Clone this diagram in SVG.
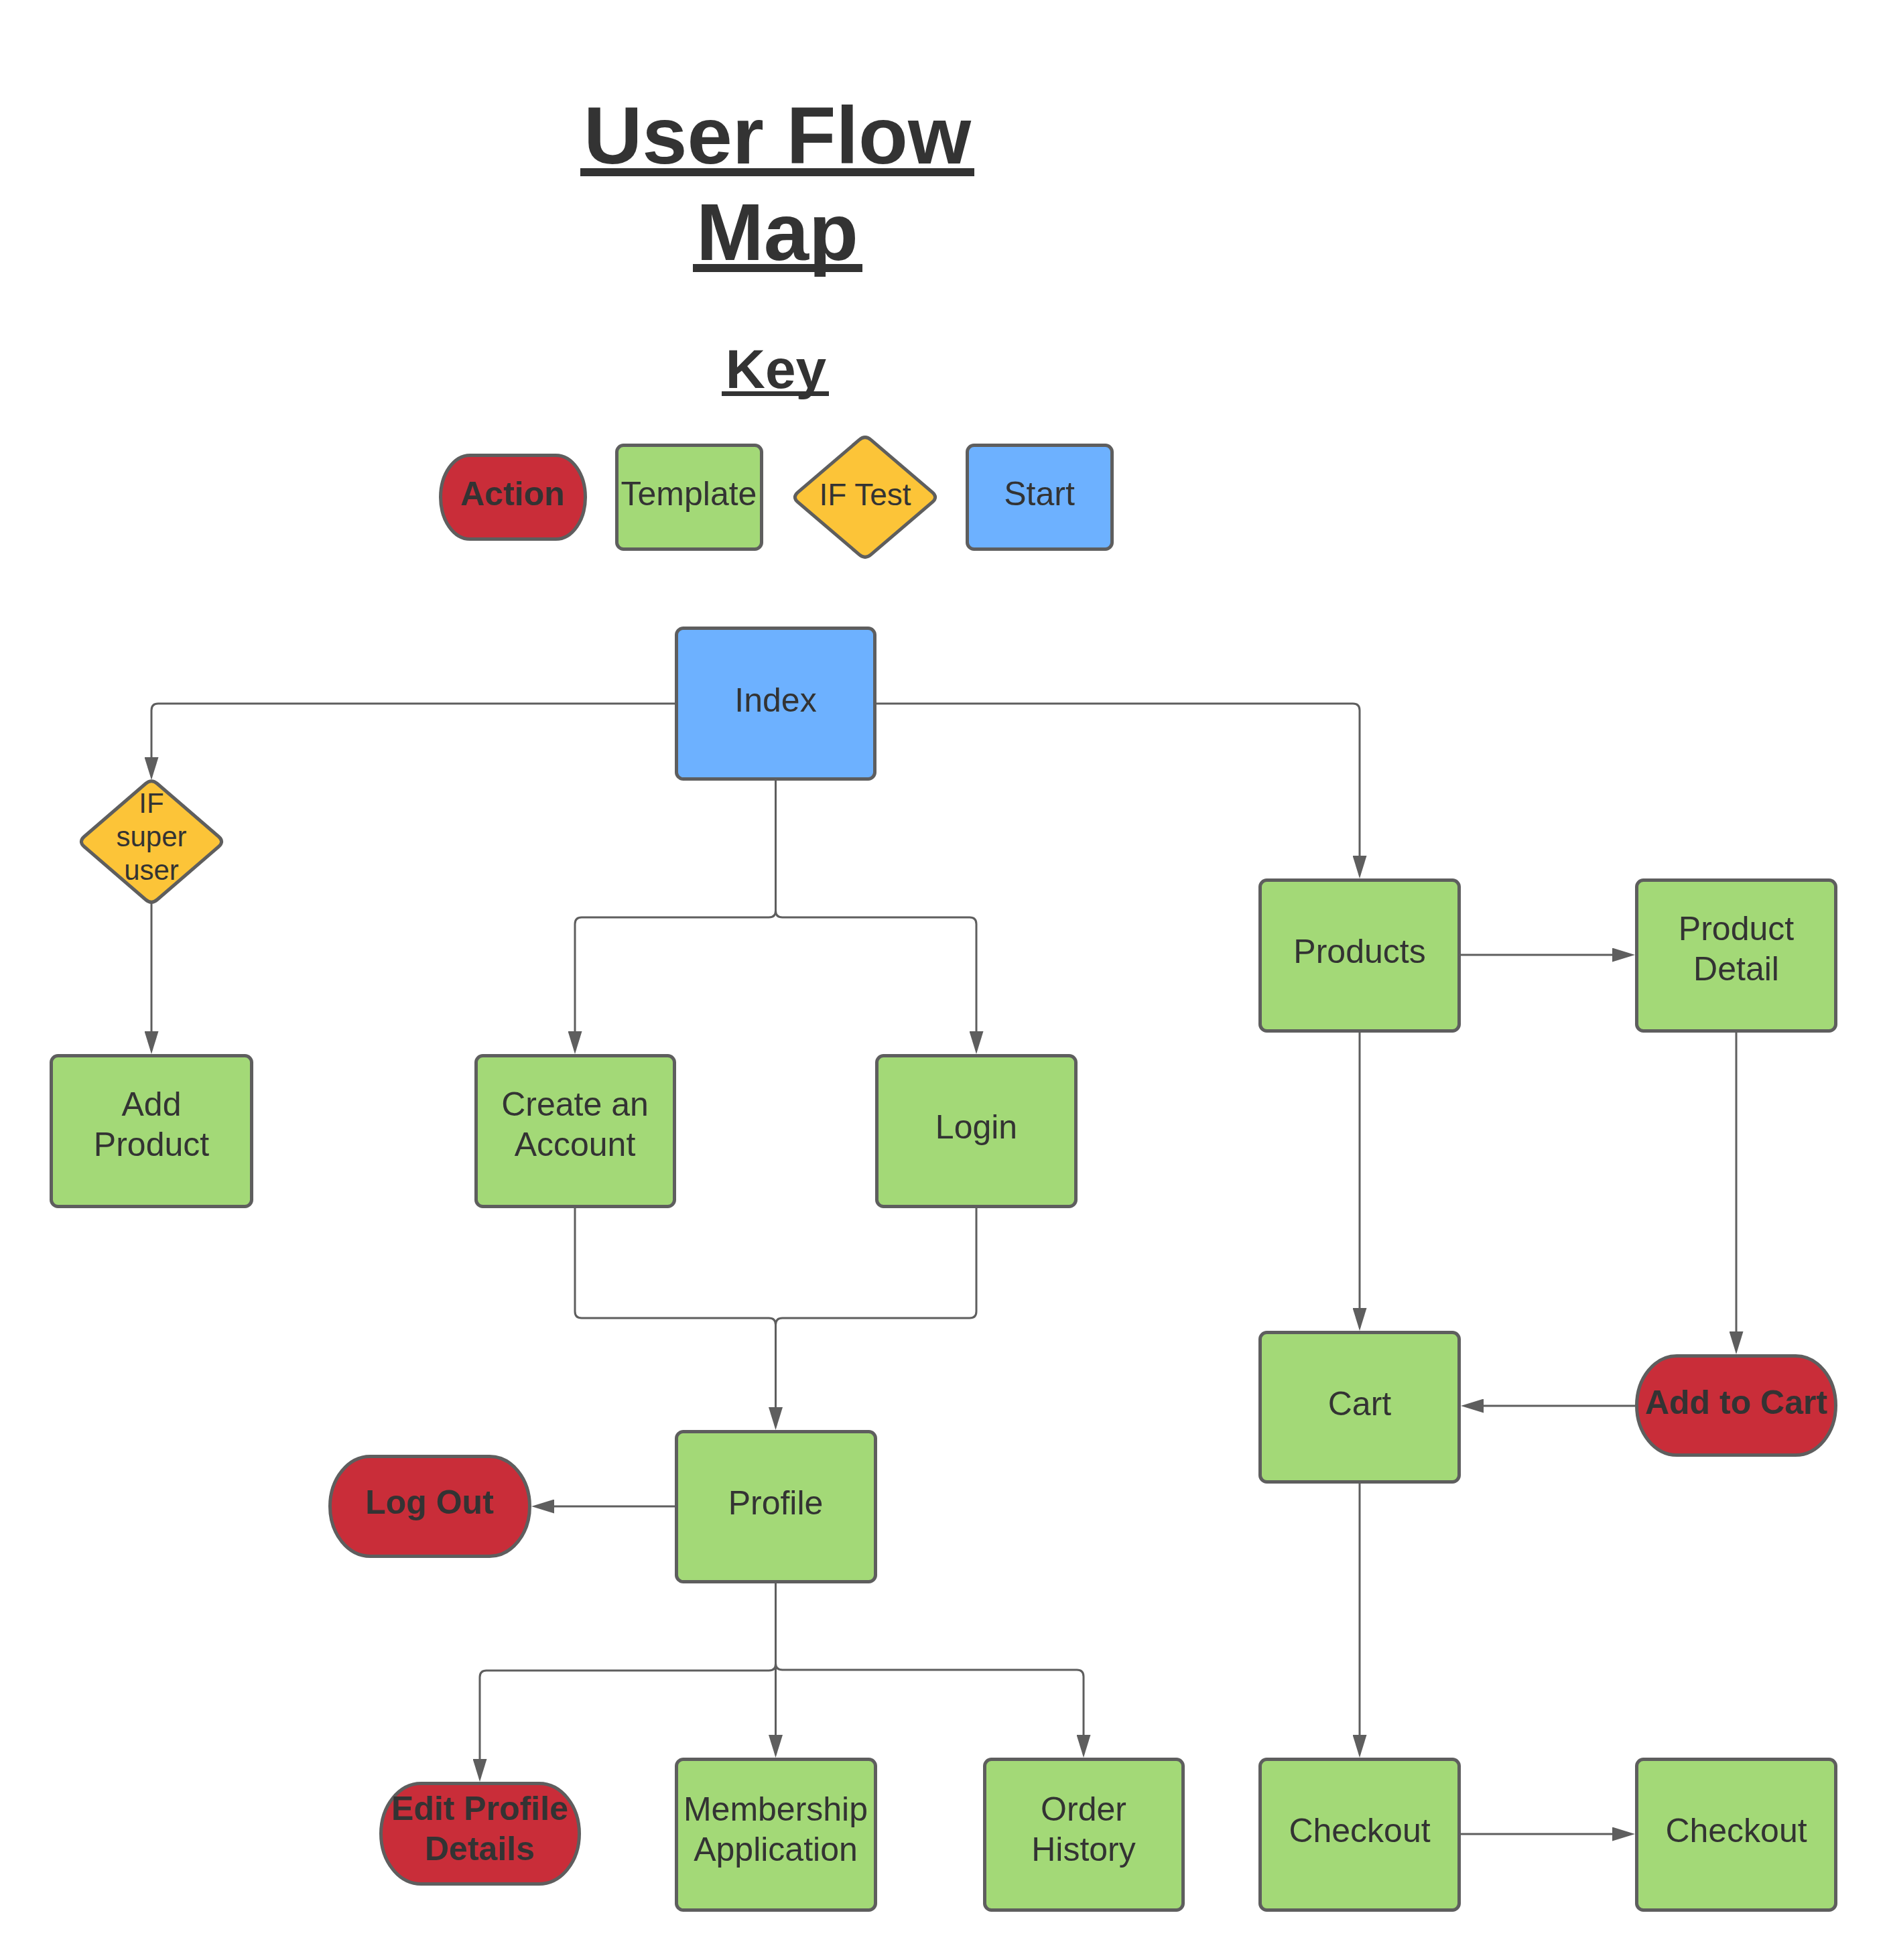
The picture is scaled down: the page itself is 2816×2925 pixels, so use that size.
<svg xmlns="http://www.w3.org/2000/svg" width="2816" height="2925" viewBox="0 0 2816 2925">
<defs>
<style>
.t{font-family:"Liberation Sans",Arial,sans-serif;fill:#333333;text-anchor:middle}
.n{font-size:50px}
.b{font-size:50px;font-weight:bold}
.tmp{fill:#A3D977;stroke:#5E5E5E;stroke-width:5}
.st{fill:#6DB1FF;stroke:#5E5E5E;stroke-width:5}
.act{fill:#C92D39;stroke:#5E5E5E;stroke-width:5}
.ift{fill:#FCC438;stroke:#5E5E5E;stroke-width:5;stroke-linejoin:round}
.c{fill:none;stroke:#5E5E5E;stroke-width:3}
.a{marker-end:url(#arr)}
</style>
<marker id="arr" markerUnits="userSpaceOnUse" viewBox="0 0 34 21" refX="14" refY="10.5" markerWidth="34" markerHeight="21" orient="auto">
<path d="M0,0 L34,10.5 L0,21 Z" fill="#5E5E5E"/>
</marker>
</defs>
<rect width="2816" height="2925" fill="#FFFFFF"/>

<g id="title">
<text class="t" x="1160" y="244" style="font-size:121px;font-weight:bold">User Flow</text>
<rect x="866" y="251" width="588" height="12" fill="#333333"/>
<text class="t" x="1160" y="388" style="font-size:121px;font-weight:bold">Map</text>
<rect x="1034" y="394" width="253" height="12" fill="#333333"/>
<text class="t" x="1158" y="579" style="font-size:82px;font-weight:bold">Key</text>
<rect x="1077" y="584" width="160" height="7" fill="#333333"/>
</g>

<g id="key">
<g id="key-action">
<rect class="act" x="657.5" y="679.5" width="216" height="125" rx="44" ry="62.5"/>
<text class="t b" x="765" y="754">Action</text>
</g>
<g id="key-template">
<rect class="tmp" x="920.5" y="664.5" width="216" height="155" rx="10"/>
<text class="t n" x="1028" y="754">Template</text>
</g>
<g id="key-iftest">
<path class="ift" d="M1299.7,656.4 L1391.3,734.6 Q1400,742 1391.3,749.4 L1299.7,827.6 Q1291,835 1282.3,827.6 L1190.7,749.4 Q1182,742 1190.7,734.6 L1282.3,656.4 Q1291,649 1299.7,656.4 Z"/>
<text class="t" x="1291" y="754" style="font-size:46px">IF Test</text>
</g>
<g id="key-start">
<rect class="st" x="1443.5" y="664.5" width="216" height="155" rx="10"/>
<text class="t n" x="1551" y="754">Start</text>
</g>
</g>

<g id="connectors">
<path class="c a" d="M1007,1050 H236 Q226,1050 226,1060 V1144"/>
<path class="c a" d="M226,1348 V1553"/>
<path class="c a" d="M1308,1050 H2019 Q2029,1050 2029,1060 V1291"/>
<path class="c a" d="M1157.5,1165 V1359 Q1157.5,1369 1147.5,1369 H868 Q858,1369 858,1379 V1553"/>
<path class="c a" d="M1157.5,1359 Q1157.5,1369 1167.5,1369 H1447 Q1457,1369 1457,1379 V1553"/>
<path class="c" d="M858,1802 V1957 Q858,1967 868,1967 H1147.5 Q1157.5,1967 1157.5,1977"/>
<path class="c a" d="M1457,1802 V1957 Q1457,1967 1447,1967 H1167.5 Q1157.5,1967 1157.5,1977 V2114"/>
<path class="c a" d="M1007,2248 H813"/>
<path class="c a" d="M1157.5,2362 V2483 Q1157.5,2493 1147.5,2493 H726 Q716,2493 716,2503 V2639"/>
<path class="c a" d="M1157.5,2362 V2603"/>
<path class="c a" d="M1157.5,2482 Q1157.5,2492 1167.5,2492 H1607 Q1617,2492 1617,2502 V2603"/>
<path class="c a" d="M2180,1425 H2420"/>
<path class="c a" d="M2029,1540 V1966"/>
<path class="c a" d="M2591,1540 V2001"/>
<path class="c a" d="M2440,2098 H2200"/>
<path class="c a" d="M2029,2214 V2603"/>
<path class="c a" d="M2180,2737 H2420"/>
</g>

<g id="index">
<rect class="st" x="1009.5" y="937.5" width="296" height="225" rx="10"/>
<text class="t n" x="1157.5" y="1062">Index</text>
</g>
<g id="if-super-user">
<path class="ift" d="M234.7,1169.5 L326.3,1248.5 Q335,1256 326.3,1263.5 L234.7,1342.5 Q226,1350 217.3,1342.5 L125.7,1263.5 Q117,1256 125.7,1248.5 L217.3,1169.5 Q226,1162 234.7,1169.5 Z"/>
<text class="t" x="226" y="1213" style="font-size:42px">IF</text>
<text class="t" x="226" y="1263" style="font-size:42px">super</text>
<text class="t" x="226" y="1313" style="font-size:42px">user</text>
</g>
<g id="add-product">
<rect class="tmp" x="76.5" y="1575.5" width="299" height="225" rx="10"/>
<text class="t n" x="226" y="1665">Add</text>
<text class="t n" x="226" y="1725">Product</text>
</g>
<g id="create-account">
<rect class="tmp" x="710.5" y="1575.5" width="296" height="225" rx="10"/>
<text class="t n" x="858" y="1665">Create an</text>
<text class="t n" x="858" y="1725">Account</text>
</g>
<g id="login">
<rect class="tmp" x="1308.5" y="1575.5" width="297" height="225" rx="10"/>
<text class="t n" x="1457" y="1699">Login</text>
</g>
<g id="profile">
<rect class="tmp" x="1009.5" y="2136.5" width="297" height="224" rx="10"/>
<text class="t n" x="1157.5" y="2260">Profile</text>
</g>
<g id="log-out">
<rect class="act" x="492.5" y="2173.5" width="298" height="149" rx="60" ry="74.5"/>
<text class="t b" x="641" y="2259">Log Out</text>
</g>
<g id="edit-profile">
<rect class="act" x="568.5" y="2661.5" width="296" height="150" rx="60" ry="75"/>
<text class="t b" x="716" y="2716">Edit Profile</text>
<text class="t b" x="716" y="2776">Details</text>
</g>
<g id="membership">
<rect class="tmp" x="1009.5" y="2625.5" width="297" height="225" rx="10"/>
<text class="t n" x="1157.5" y="2717">Membership</text>
<text class="t n" x="1157.5" y="2777">Application</text>
</g>
<g id="order-history">
<rect class="tmp" x="1469.5" y="2625.5" width="296" height="225" rx="10"/>
<text class="t n" x="1617" y="2717">Order</text>
<text class="t n" x="1617" y="2777">History</text>
</g>
<g id="products">
<rect class="tmp" x="1880.5" y="1313.5" width="297" height="225" rx="10"/>
<text class="t n" x="2029" y="1437">Products</text>
</g>
<g id="product-detail">
<rect class="tmp" x="2442.5" y="1313.5" width="297" height="225" rx="10"/>
<text class="t n" x="2591" y="1403">Product</text>
<text class="t n" x="2591" y="1463">Detail</text>
</g>
<g id="cart">
<rect class="tmp" x="1880.5" y="1988.5" width="297" height="223" rx="10"/>
<text class="t n" x="2029" y="2112">Cart</text>
</g>
<g id="add-to-cart">
<rect class="act" x="2442.5" y="2023.5" width="297" height="148" rx="60" ry="74"/>
<text class="t b" x="2591" y="2110">Add to Cart</text>
</g>
<g id="checkout-1">
<rect class="tmp" x="1880.5" y="2625.5" width="297" height="225" rx="10"/>
<text class="t n" x="2029" y="2749">Checkout</text>
</g>
<g id="checkout-2">
<rect class="tmp" x="2442.5" y="2625.5" width="297" height="225" rx="10"/>
<text class="t n" x="2591" y="2749">Checkout</text>
</g>
</svg>
